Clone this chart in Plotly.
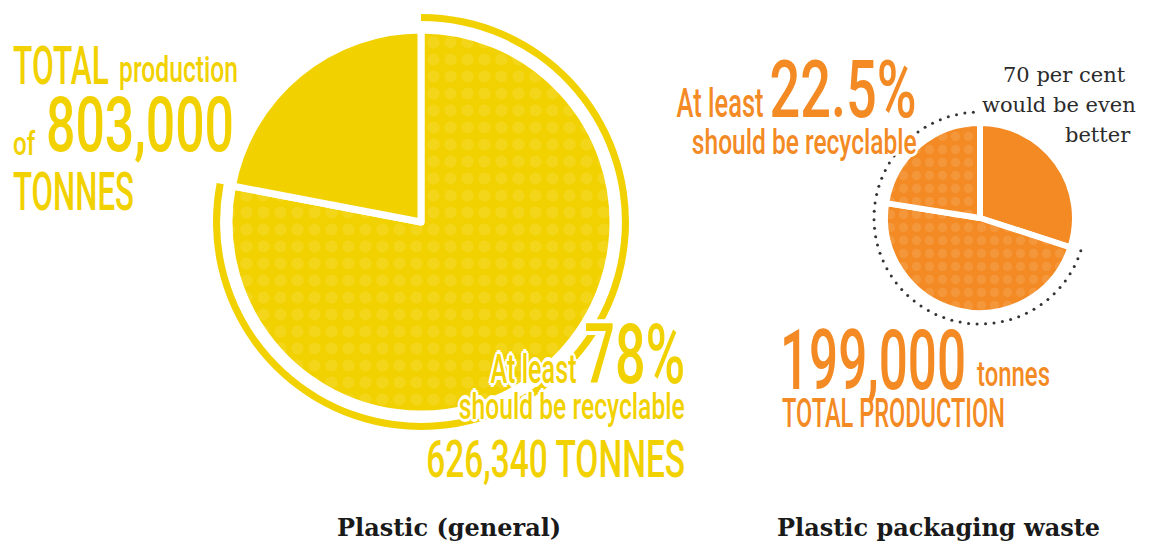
import json
import numpy as np
import plotly.graph_objects as go

W, H = 1168, 544

# data
general_labels = ["Should be recyclable", "Rest"]
general_share = [78, 22]
general_total = "803,000"
general_recyclable = "626,340"

packaging_labels = ["Rest", "Would be even better", "Should be recyclable"]
packaging_share = [30, 47.5, 22.5]
packaging_total = "199,000"
packaging_better = 70

YELLOW = "#f2d100"
ORANGE = "#f38a24"
COND = "Roboto, Liberation Sans, sans-serif"
SERIF = "DejaVu Serif, Liberation Serif, serif"
HALO = ("white 3px 0 0, white -3px 0 0, white 0 3px 0, white 0 -3px 0, "
        "white 2px 2px 0, white -2px -2px 0, white 2px -2px 0, white -2px 2px 0")


def dom(cx, cy, r):
    return dict(x=[(cx - r) / W, (cx + r) / W], y=[1 - (cy + r) / H, 1 - (cy - r) / H])


fig = go.Figure()

# left pie
fig.add_trace(go.Pie(
    labels=general_labels, values=general_share, sort=False, direction="clockwise",
    rotation=0, domain=dom(421, 222, 192), textinfo="none", hoverinfo="label+percent",
    marker=dict(colors=[YELLOW, YELLOW], line=dict(color="white", width=7),
                pattern=dict(shape=[".", ""], fgcolor="rgba(255,255,255,0.2)",
                             fillmode="overlay", size=17, solidity=0.4)),
    showlegend=False,
))
# outer ring around the recyclable share
fig.add_trace(go.Pie(
    values=general_share, sort=False, direction="clockwise", rotation=0,
    domain=dom(421, 222, 208), hole=0.966, textinfo="none", hoverinfo="skip",
    marker=dict(colors=[YELLOW, "rgba(0,0,0,0)"], line=dict(width=0)),
    showlegend=False,
))

# right pie
fig.add_trace(go.Pie(
    labels=packaging_labels, values=packaging_share, sort=False, direction="clockwise",
    rotation=0, domain=dom(980, 218, 95), textinfo="none", hoverinfo="label+percent",
    marker=dict(colors=[ORANGE] * 3, line=dict(color="white", width=6),
                pattern=dict(shape=["", ".", "."], fgcolor="rgba(255,255,255,0.2)",
                             fillmode="overlay", size=13, solidity=0.4)),
    showlegend=False,
))

# dotted ring around the 70 per cent
start = 360 * packaging_share[0] / 100
ang = np.radians(np.arange(start, 360.01, 4.6))
fig.add_trace(go.Scatter(
    x=980 + 106 * np.sin(ang), y=218 - 106 * np.cos(ang), mode="markers",
    marker=dict(size=3, color="#333333"), hoverinfo="skip", showlegend=False,
))

# condensed headline texts: (x0, x1) is the box they get squeezed into
widths = {}


def cond(x0, x1, yc, s, size, color, anchor="left", halo=False):
    font = dict(family=COND, size=size, color=color, weight=500)
    if halo:
        font["shadow"] = HALO
    x = x0 if anchor == "left" else x1
    fig.add_annotation(x=x / W, y=1 - yc / H, xref="paper", yref="paper", text=s,
                       showarrow=False, xanchor=anchor, yanchor="middle", font=font,
                       borderpad=0)
    widths[len(fig.layout.annotations) - 1] = x1 - x0


# left texts
cond(12, 108, 65, "TOTAL", 54, YELLOW)
cond(118, 237, 70, "production", 36, YELLOW)
cond(12, 35, 143, "of", 34, YELLOW)
cond(45, 233, 125, general_total, 76, YELLOW)
cond(12, 133, 191, "TONNES", 54, YELLOW)

cond(492, 578, 369, "At least", 40, YELLOW, "right", True)
cond(585, 686, 354, f"{general_share[0]}%", 84, YELLOW, "right", True)
cond(460, 686, 407, "should be recyclable", 36, YELLOW, "right", True)
cond(427, 686, 459, f"{general_recyclable} TONNES", 52, YELLOW, "right", True)

# right texts
cond(678, 765, 103, "At least", 40, ORANGE, "right", True)
cond(771, 918, 90, f"{packaging_share[2]}%", 80, ORANGE, "right", True)
cond(693, 918, 142, "should be recyclable", 36, ORANGE, "right", True)
cond(779, 965, 360, packaging_total, 84, ORANGE)
cond(976, 1049, 374, "tonnes", 36, ORANGE)
cond(781, 1004, 413, "TOTAL PRODUCTION", 40, ORANGE)

# note, one line at a time to keep the original spacing
note = [f"{packaging_better} per cent", "would be even", "better"]
for (xr, y), line in zip([(1128, 75), (1138, 105), (1133, 135)], note):
    fig.add_annotation(x=xr / W, y=1 - y / H, xref="paper", yref="paper", text=line,
                       showarrow=False, xanchor="right", yanchor="middle",
                       font=dict(family=SERIF, size=21, color="#2b2b2b"))

# titles
for x, t in [(449, "Plastic (general)"), (938, "Plastic packaging waste")]:
    fig.add_annotation(x=x / W, y=1 - 527 / H, xref="paper", yref="paper",
                       text=f"<b>{t}</b>", showarrow=False, xanchor="center",
                       yanchor="middle", font=dict(family=SERIF, size=24, color="#1a1a1a"))

fig.update_layout(
    width=W, height=H, margin=dict(l=0, r=0, t=0, b=0),
    paper_bgcolor="white", plot_bgcolor="white",
    xaxis=dict(range=[0, W], visible=False, fixedrange=True),
    yaxis=dict(range=[H, 0], visible=False, fixedrange=True),
)

# squeeze the headline texts horizontally, like the condensed face of the original
post = """
document.body.style.margin = '0';
document.body.style.overflow = 'hidden';
var gd = document.getElementById('{plot_id}');
var widths = %s;
Object.keys(widths).forEach(function (i) {
  var t = gd.querySelector('g.annotation[data-index="' + i + '"] text.annotation-text');
  if (!t) return;
  var bb = t.getBBox();
  var s = widths[i] / bb.width;
  var a = gd.layout.annotations[i].xanchor === 'right' ? bb.x + bb.width : bb.x;
  t.setAttribute('transform', 'translate(' + a + ',0) scale(' + s + ',1) translate(' + (-a) + ',0)');
});
""" % json.dumps(widths)

fig.write_html("out.html", post_script=post, config={"displayModeBar": False})
